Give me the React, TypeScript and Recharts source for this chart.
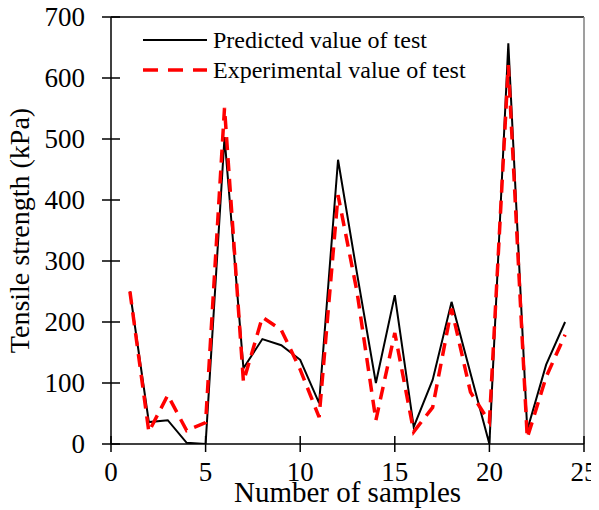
import { LineChart, Line, XAxis, YAxis, ReferenceLine, Legend, Label } from 'recharts'

const samples = [1, 2, 3, 4, 5, 6, 7, 8, 9, 10, 11, 12, 13, 14, 15, 16, 17, 18, 19, 20, 21, 22, 23, 24]
const predicted = [250, 36, 39, 2, 0, 503, 124, 172, 162, 138, 67, 466, 280, 100, 244, 28, 105, 233, 116, 0, 657, 23, 130, 200]
const experimental = [250, 20, 80, 22, 35, 551, 102, 208, 187, 122, 44, 408, 250, 39, 182, 20, 60, 222, 85, 36, 621, 10, 110, 179]
const xTicks = [0, 5, 10, 15, 20, 25]
const yTicks = [0, 100, 200, 300, 400, 500, 600, 700]

const FONT = '"Liberation Serif", "Times New Roman", serif'

const data = samples.map((s, i) => ({ sample: s, predicted: predicted[i], experimental: experimental[i] }))

const YTick = ({ x, y, payload }: any) => (
  <g>
    <line x1={x - 9} x2={x + 9} y1={y} y2={y} stroke="#000" strokeWidth={1.5} />
    <text x={x - 26} y={y} dy={9} textAnchor="end" fontSize={27} fontFamily={FONT} fill="#000">
      {payload.value}
    </text>
  </g>
)

const XTick = ({ x, y, payload }: any) => (
  <g>
    <line x1={x} x2={x} y1={y - 8} y2={y + 8} stroke="#000" strokeWidth={1.5} />
    <text x={x} y={y + 37} textAnchor="middle" fontSize={27} fontFamily={FONT} fill="#000">
      {payload.value}
    </text>
  </g>
)

const renderLegend = () => {
  const rows = [
    { name: 'Predicted value of test', color: '#000', width: 2, dash: undefined },
    { name: 'Experimental value of test', color: '#ff0000', width: 3.5, dash: '15 10' },
  ]
  return (
    <div style={{ fontFamily: FONT, fontSize: 24, color: '#000' }}>
      {rows.map((r) => (
        <div key={r.name} style={{ display: 'flex', alignItems: 'center', height: 30, whiteSpace: 'nowrap' }}>
          <svg width={64} height={30} style={{ display: 'block' }}>
            <line x1={0} x2={64} y1={15} y2={15} stroke={r.color} strokeWidth={r.width} strokeDasharray={r.dash} />
          </svg>
          <span style={{ marginLeft: 6, lineHeight: '30px' }}>{r.name}</span>
        </div>
      ))}
    </div>
  )
}

export default function App() {
  return (
    <div style={{ marginLeft: -8, marginTop: -8, width: 599, height: 510 }}>
      <LineChart width={599} height={510} data={data} margin={{ top: 17, right: 15, bottom: 0, left: 0 }}>
        <XAxis
          dataKey="sample"
          type="number"
          domain={[0, 25]}
          ticks={xTicks}
          height={66}
          tickLine={false}
          tickSize={0}
          tickMargin={0}
          tick={<XTick />}
          axisLine={{ stroke: '#000', strokeWidth: 1.5 }}
        >
          <Label
            content={({ viewBox }: any) => (
              <text
                x={viewBox.x + viewBox.width / 2}
                y={viewBox.y + viewBox.height - 8}
                textAnchor="middle"
                fontSize={29}
                fontFamily={FONT}
                fill="#000"
              >
                Number of samples
              </text>
            )}
          />
        </XAxis>
        <YAxis
          type="number"
          domain={[0, 700]}
          ticks={yTicks}
          width={111}
          allowDataOverflow
          tickLine={false}
          tickSize={0}
          tickMargin={0}
          tick={<YTick />}
          axisLine={{ stroke: '#000', strokeWidth: 1.5 }}
        >
          <Label
            content={({ viewBox }: any) => {
              const cx = 29
              const cy = viewBox.y + viewBox.height / 2
              return (
                <text
                  x={cx}
                  y={cy}
                  transform={`rotate(-90, ${cx}, ${cy})`}
                  textAnchor="middle"
                  fontSize={28}
                  fontFamily={FONT}
                  fill="#000"
                >
                  Tensile strength (kPa)
                </text>
              )
            }}
          />
        </YAxis>
        <ReferenceLine y={700} stroke="#000" strokeWidth={1.5} />
        <ReferenceLine x={25} stroke="#7f7f7f" strokeWidth={1.5} />
        <Legend
          layout="vertical"
          align="center"
          verticalAlign="middle"
          content={renderLegend}
          wrapperStyle={{ left: 143, top: 25, width: 'auto' }}
        />
        <Line
          type="linear"
          dataKey="predicted"
          name="Predicted value of test"
          stroke="#000"
          strokeWidth={2}
          dot={false}
          isAnimationActive={false}
        />
        <Line
          type="linear"
          dataKey="experimental"
          name="Experimental value of test"
          stroke="#ff0000"
          strokeWidth={3.5}
          strokeDasharray="13 8"
          dot={false}
          isAnimationActive={false}
        />
      </LineChart>
    </div>
  )
}
